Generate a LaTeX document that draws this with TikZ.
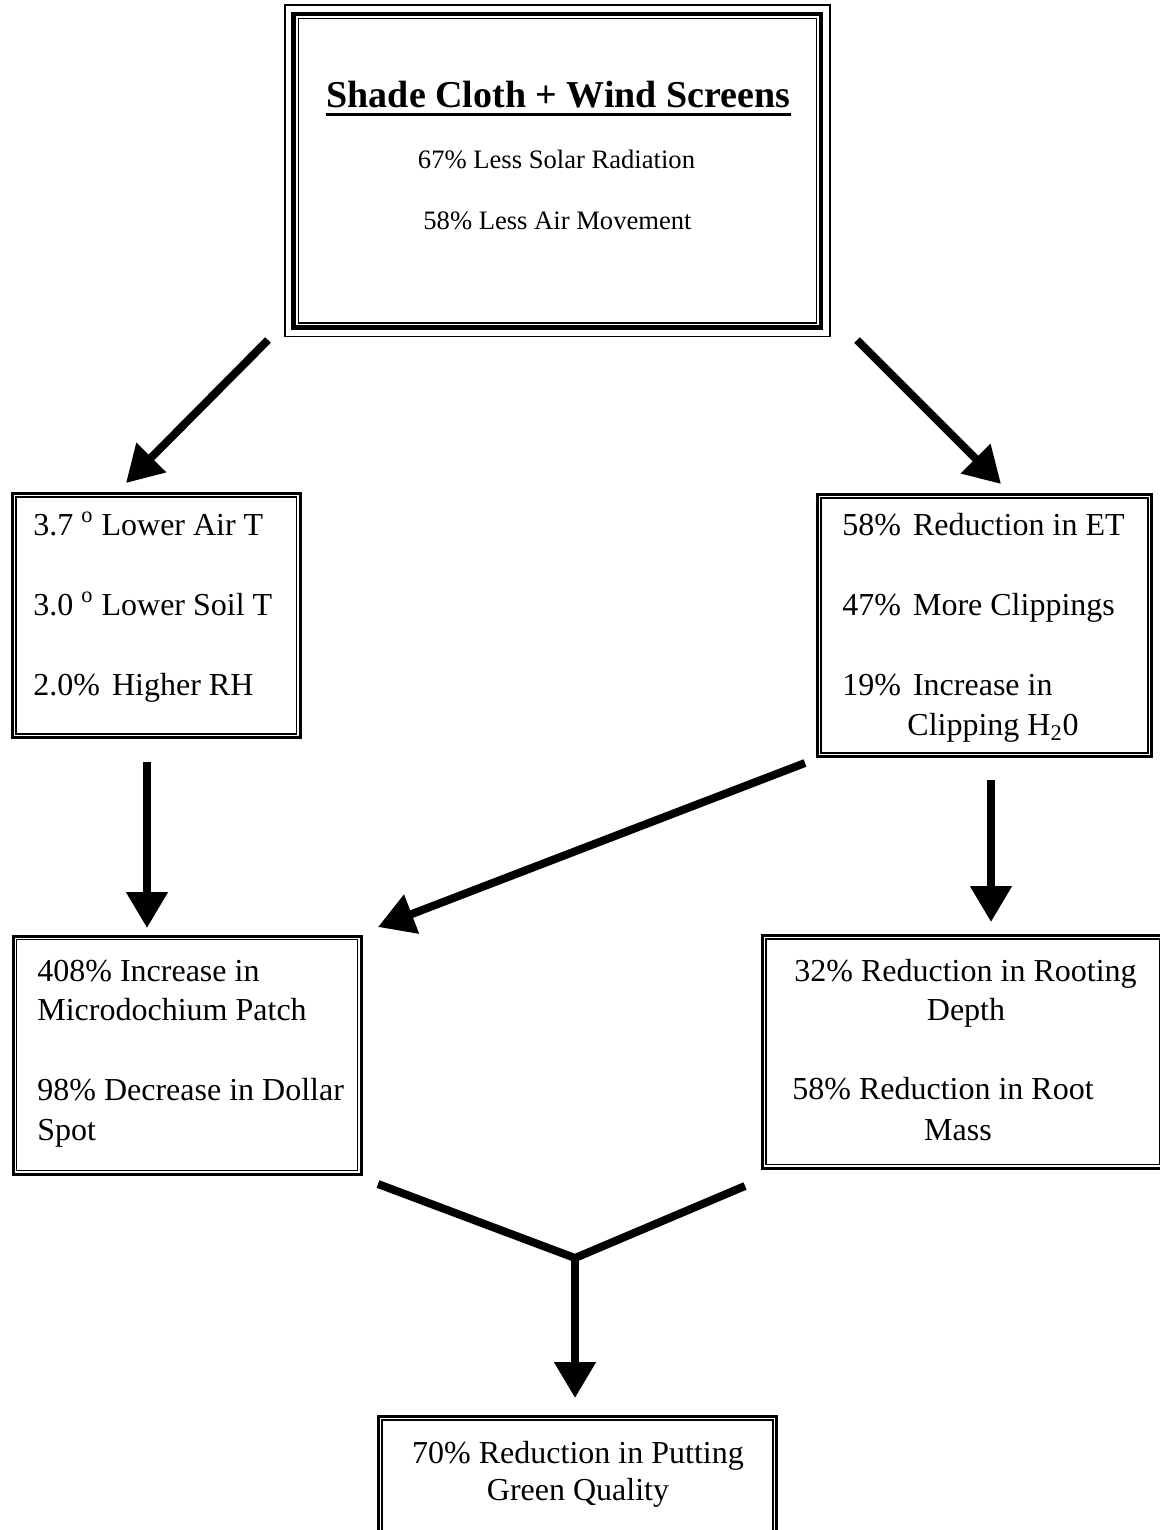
\documentclass[tikz,border=0pt]{standalone}
\usepackage{fontspec}
\setmainfont{Liberation Serif}
\usetikzlibrary{arrows.meta,fit}
\newcommand{\wgap}{\hspace{6pt}}
\begin{document}
\begin{tikzpicture}[x=0.5pt,y=-0.5pt,
  dbox/.style={draw, line width=1.5pt, inner sep=0pt},
  ibox/.style={draw, line width=0.75pt},
  tbox/.style={draw, line width=2.25pt, inner sep=0pt},
  txt/.style={inner sep=0pt, font=\fontsize{16}{20}\selectfont},
  sm/.style={inner sep=0pt, font=\fontsize{13.3}{16}\selectfont},
  ttl/.style={inner sep=0pt, font=\fontsize{19}{23}\selectfont\bfseries},
  arr/.style={line width=4pt, -{Triangle[length=18pt,width=20pt]}},
  seg/.style={line width=4pt, line join=miter}
]
\useasboundingbox (0,0) rectangle (1160,1530);

% ---------- boxes ----------
\node[tbox, fit={(293.5,14) (821,327.5)}] (top) {};
\draw[ibox] ([shift={(-3.25pt,3.25pt)}]top.north west) rectangle ([shift={(3.25pt,-3.25pt)}]top.south east);
\draw[ibox] ([shift={(3.5pt,-3.5pt)}]top.north west) rectangle ([shift={(-3.5pt,3.5pt)}]top.south east);

\node[dbox, fit={(12.5,493.5) (300,737.5)}] (lbox) {};
\node[dbox, fit={(817.5,494.5) (1151.5,756.5)}] (rbox) {};
\node[dbox, fit={(13,936) (361,1174)}] (mlbox) {};
\node[dbox, fit={(762.5,935.5) (1163,1168)}] (mrbox) {};
\node[dbox, fit={(378.5,1416.5) (776.5,1545)}] (bbox) {};
\foreach \b in {lbox,rbox,mlbox,mrbox,bbox}{
  \draw[ibox] ([shift={(2.5pt,-2.5pt)}]\b.north west) rectangle ([shift={(-2.5pt,2.5pt)}]\b.south east);
}

% ---------- texts ----------
\node[ttl, anchor=base] (title) at (558.5,108) {Shade Cloth + Wind Screens};
\draw[line width=1.2pt] ([yshift=-3.3pt]title.base west) -- ([yshift=-3.3pt]title.base east);
\node[sm, anchor=base] (t1) at (556.5,169) {67\% Less Solar Radiation};
\node[sm, anchor=base] (t2) at (557.5,229) {58\% Less Air Movement};

\node[txt, anchor=base west] (l1) at (33,535) {3.7 \textsuperscript{o} Lower Air T};
\node[txt, anchor=base west] (l2) at (33,615) {3.0 \textsuperscript{o} Lower Soil T};
\node[txt, anchor=base west] (l3) at (33,695) {2.0\%\wgap Higher RH};

\node[txt, anchor=base west] (r1) at (842,535) {58\%\wgap Reduction in ET};
\node[txt, anchor=base west] (r2) at (842,615) {47\%\wgap More Clippings};
\node[txt, anchor=base west] (r3) at (842,695) {19\%\wgap Increase in};
\node[txt, anchor=base west] (r4) at (907,735) {Clipping H\textsubscript{2}0};

\node[txt, anchor=base west] (ml1) at (37,981) {408\% Increase in};
\node[txt, anchor=base west] (ml2) at (37,1020) {Microdochium Patch};
\node[txt, anchor=base west] (ml3) at (37,1100) {98\% Decrease in Dollar};
\node[txt, anchor=base west] (ml4) at (37,1140) {Spot};

\node[txt, anchor=base] (mr1) at (965.5,981) {32\% Reduction in Rooting};
\node[txt, anchor=base] (mr2) at (966,1020) {Depth};
\node[txt, anchor=base] (mr3) at (943,1099) {58\% Reduction in Root};
\node[txt, anchor=base] (mr4) at (958,1140) {Mass};

\node[txt, anchor=base] (b1) at (578,1463) {70\% Reduction in Putting};
\node[txt, anchor=base] (b2) at (578,1500) {Green Quality};

% ---------- connectors ----------
\coordinate (a1s) at (268,340);   \coordinate (a1e) at (126,483);
\coordinate (a2s) at (857,340);   \coordinate (a2e) at (1001,484);
\coordinate (a3s) at (147,762);   \coordinate (a3e) at (147,928);
\coordinate (a4s) at (805,763);   \coordinate (a4e) at (378,927);
\coordinate (a5s) at (991,780);   \coordinate (a5e) at (991,922);
\coordinate (yl) at (378,1184);   \coordinate (yr) at (745,1186);
\coordinate (yj) at (575,1258);   \coordinate (ye) at (575,1398);

\draw[arr] (a1s) -- (a1e);
\draw[arr] (a2s) -- (a2e);
\draw[arr] (a3s) -- (a3e);
\draw[arr] (a4s) -- (a4e);
\draw[arr] (a5s) -- (a5e);
\draw[seg] (yl) -- (yj) -- (yr);
\draw[arr] ([yshift=2pt]yj) -- (ye);
\end{tikzpicture}
\end{document}
